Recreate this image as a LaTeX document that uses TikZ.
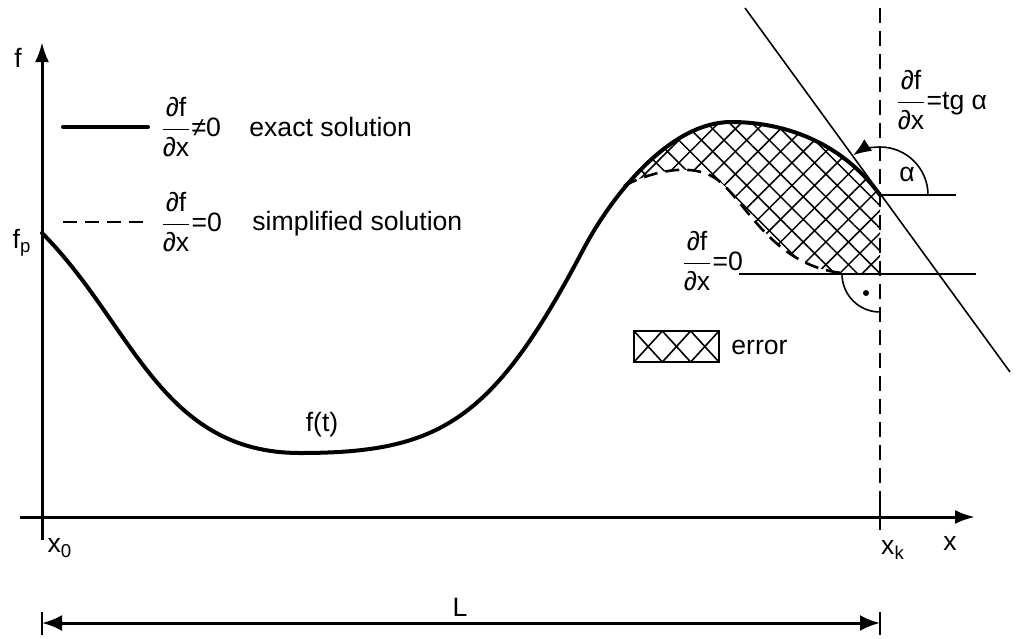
\documentclass[tikz,border=0pt]{standalone}
\usepackage{amsmath}
\usepackage{fontspec}
\setmainfont{Liberation Sans}
\usetikzlibrary{arrows.meta}
\usetikzlibrary{patterns.meta}
\newcommand{\dfdx}{\ensuremath{\dfrac{\text{∂f}}{\text{∂x}}}}
\newcommand{\exactcurve}{(42,233) .. controls (132,323) and (160,453) .. (300,453)
  .. controls (440,453) and (493,421) .. (583,250)
  .. controls (613,193) and (671,122) .. (731,122)
  .. controls (781,122) and (840,140) .. (880,195)}
\newcommand{\simplecurve}{(624,186) .. controls (650,172) and (690,162) .. (715,178)
  .. controls (745,198) and (770,265) .. (842,273)}

\begin{document}
\begin{tikzpicture}[x=0.5pt,y=-0.5pt,
  lbl/.style={font=\fontsize{13.3}{16}\selectfont,inner sep=1pt},
  axis/.style={line width=1.5pt,-{Latex[length=10pt,width=7pt]}},
  curve/.style={line width=2pt,line cap=round},
  simple/.style={line width=1.3pt,dash pattern=on 7pt off 4pt},
  fine/.style={line width=0.8pt},
  guide/.style={line width=0.9pt,dash pattern=on 7.5pt off 4pt},
  hatch/.style={pattern={Lines[angle=#1,distance=8pt,line width=0.75pt]}}
]
  \useasboundingbox (0,0) rectangle (1018,638);

  \coordinate (ybot) at (42,540);
  \coordinate (ytop) at (42,42);
  \coordinate (xleft) at (20,517);
  \coordinate (xright) at (975,517);
  \coordinate (vtop) at (880,8);
  \coordinate (vbot) at (880,505);
  \coordinate (kbot) at (880,530);
  \coordinate (touch) at (880,195);
  \coordinate (ta) at (745,8);
  \coordinate (tb) at (1010,372);
  \coordinate (hr) at (956,195);
  \coordinate (flat) at (880,274);
  \coordinate (ml) at (739,274);
  \coordinate (mr) at (976,274);
  \coordinate (d0) at (42,623);
  \coordinate (d1) at (880,623);

  % error area
  \begin{scope}
    \clip \exactcurve -- (880,640) -- (42,640) -- cycle;
    \foreach \ang in {45,-45}
      \fill[hatch=\ang] \simplecurve -- (flat) -- (880,100) -- (624,100) -- cycle;
  \end{scope}

  % axes
  \draw[axis] (ybot) -- (ytop);
  \draw[axis] (xleft) -- (xright);
  \draw[guide] (vtop) -- (vbot);
  \draw[line width=1pt] (vbot) -- (kbot);

  % curves
  \draw[curve] \exactcurve;
  \draw[simple] \simplecurve;

  % tangent and angles
  \draw[fine] (ta) -- (tb);
  \draw[fine] (touch) -- (hr);
  \draw[fine] (ml) -- (mr);
  \draw[fine,-{Latex[length=9pt,width=7pt]}] (928,195) arc[start angle=0,end angle=-124,radius=48];
  \draw[fine] (842,274) arc[start angle=180,end angle=90,radius=38];
  \fill (866,293) circle[radius=3];

  % legend
  \draw[curve] (63,127) -- (148,127);
  \draw[simple] (63,222) -- (148,222);
  \draw[fine] (634,331) rectangle (719,362);
  \foreach \i in {0,1,2}
    \draw[fine] (634+28.33*\i,331) -- ++(28.33,31) (634+28.33*\i,362) -- ++(28.33,-31);

  % length
  \draw[line width=1.5pt,{Latex[length=10pt,width=8pt]}-{Latex[length=10pt,width=8pt]}] (d0) -- (d1);
  \draw[fine] (42,612) -- (42,635) (880,612) -- (880,635);

  % labels
  \node[lbl] (fy) at (18,58) {f};
  \node[lbl] (fp) at (22,243) {f\textsubscript{p}};
  \node[lbl] (x0) at (60,548) {x\textsubscript{0}};
  \node[lbl] (xk) at (893,550) {x\textsubscript{k}};
  \node[lbl] (xl) at (950,543) {x};
  \node[lbl] (len) at (460,607) {L};
  \node[lbl] (ft) at (322,425) {f(t)};
  \node[lbl,anchor=west] (lg1) at (158,127) {\dfdx≠0};
  \node[lbl,anchor=west] (ex) at (247,127) {exact solution};
  \node[lbl,anchor=west] (lg2) at (158,222) {\dfdx=0};
  \node[lbl,anchor=west] (si) at (250,224) {simplified solution};
  \node[lbl,anchor=west] (zero) at (679,261) {\dfdx=0};
  \node[lbl,anchor=west] (tg) at (893,100) {\dfdx=tg α};
  \node[lbl] (al) at (907,174) {α};
  \node[lbl,anchor=west] (err) at (729,347) {error};
\end{tikzpicture}
\end{document}
